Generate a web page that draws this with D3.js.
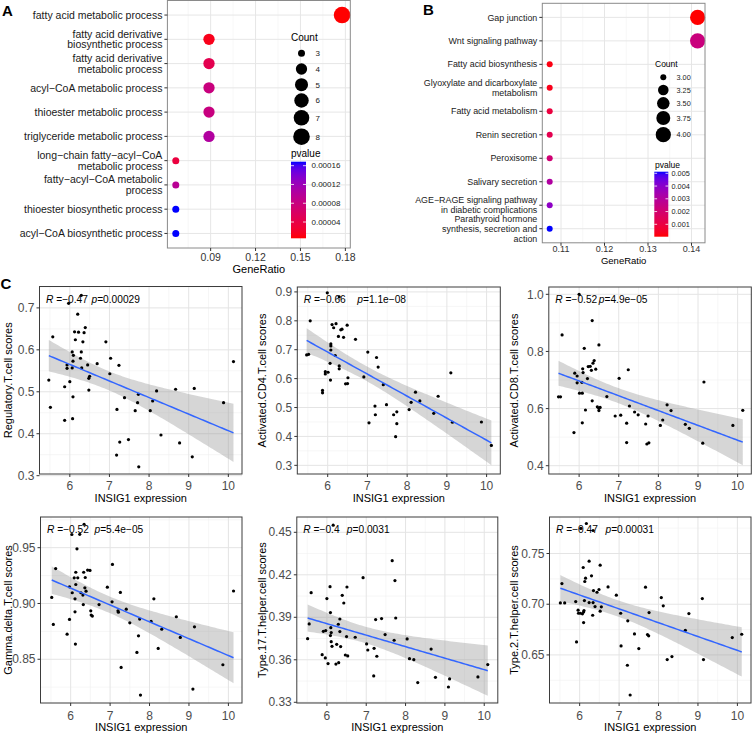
<!DOCTYPE html>
<html><head><meta charset="utf-8">
<script src="https://cdn.jsdelivr.net/npm/d3@7"></script>
<style>body{margin:0;background:#fff;} svg text{font-family:"Liberation Sans", Arial, Helvetica, sans-serif;}</style>
</head><body>
<script>
// ---------------- DATA ----------------
// Panel A (GO enrichment)
const goTerms = ["fatty acid metabolic process","fatty acid derivative\nbiosynthetic process","fatty acid derivative\nmetabolic process","acyl\u2212CoA metabolic process","thioester metabolic process","triglyceride metabolic process","long\u2212chain fatty\u2212acyl\u2212CoA\nmetabolic process","fatty\u2212acyl\u2212CoA metabolic\nprocess","thioester biosynthetic process","acyl\u2212CoA biosynthetic process"];
const goRatio = [0.1778,0.0889,0.0889,0.0889,0.0889,0.0889,0.0667,0.0667,0.0667,0.0667];
const goCount = [8,4,4,4,4,4,3,3,3,3];
const goP = [0.0000053,0.000014,0.000046,0.000079,0.000080,0.000103,0.000035,0.000095,0.0001685,0.0001685];
const goTicks = [0.09,0.12,0.15,0.18];
const goCountBreaks = [3,4,5,6,7,8];
const goPBreaks = [0.00004,0.00008,0.00012,0.00016];

// Panel B (KEGG enrichment)
const keggTerms = ["Gap junction","Wnt signaling pathway","Fatty acid biosynthesis","Glyoxylate and dicarboxylate\nmetabolism","Fatty acid metabolism","Renin secretion","Peroxisome","Salivary secretion","AGE\u2212RAGE signaling pathway\nin diabetic complications","Parathyroid hormone\nsynthesis, secretion and\naction"];
const keggRatio = [0.1414,0.1414,0.1074,0.1074,0.1074,0.1074,0.1074,0.1074,0.1074,0.1074];
const keggCount = [4,4,3,3,3,3,3,3,3,3];
const keggP = [0.0000275,0.0023,0.00018,0.00028,0.00095,0.0013,0.0021,0.0031,0.0039,0.005125];
const keggTicks = [0.11,0.12,0.13,0.14];
const keggCountBreaks = [3.00,3.25,3.50,3.75,4.00];
const keggPBreaks = [0.001,0.002,0.003,0.004,0.005];

// Panel C (correlations with INSIG1 expression)
const scoreNames = ["Regulatory.T.cell scores","Activated.CD4.T.cell scores","Activated.CD8.T.cell scores","Gamma.delta.T.cell scores","Type.17.T.helper.cell scores","Type.2.T.helper.cell scores"];
const corR = ["\u22120.47","\u22120.66","\u22120.52","\u22120.52","\u22120.4","\u22120.47"];
const corP = ["0.00029","1.1e\u221208","4.9e\u221205","5.4e\u221205","0.0031","0.00031"];
const insigTicks = [6,7,8,9,10];
const scoreTicks = [[0.3,0.4,0.5,0.6,0.7],[0.3,0.4,0.5,0.6,0.7,0.8,0.9],[0.4,0.6,0.8,1.0],[0.85,0.90,0.95],[0.33,0.36,0.39,0.42,0.45],[0.65,0.70,0.75]];
const scoreTickFmt = [".1f",".1f",".1f",".2f",".2f",".2f"];

const tregPts = [[5.47,0.528],[5.51,0.463],[5.57,0.631],[5.87,0.432],[5.87,0.512],[5.93,0.564],[5.93,0.556],[5.97,0.711],[6.29,0.73],[6.2,0.685],[6.12,0.643],[6.22,0.642],[6.36,0.641],[6.39,0.653],[6.14,0.624],[6.33,0.619],[6.06,0.595],[6.09,0.587],[6.29,0.595],[6.08,0.573],[6.06,0.557],[6.27,0.58],[6.3,0.557],[6.45,0.564],[6.0,0.524],[6.5,0.537],[6.48,0.532],[6.48,0.504],[6.08,0.488],[6.07,0.436],[6.69,0.567],[6.91,0.619],[7.03,0.58],[7.01,0.543],[7.24,0.563],[7.19,0.458],[7.18,0.349],[7.26,0.38],[7.38,0.486],[7.48,0.386],[7.65,0.455],[7.71,0.474],[7.73,0.494],[7.74,0.321],[8.03,0.455],[8.09,0.478],[8.19,0.502],[8.3,0.397],[8.67,0.506],[8.77,0.378],[9.14,0.508],[9.09,0.345],[9.88,0.474],[10.13,0.572]];
const cd4Pts = [[5.47,0.682],[5.52,0.684],[5.56,0.800],[5.87,0.559],[5.87,0.551],[5.94,0.624],[5.94,0.616],[6.01,0.622],[5.99,0.897],[6.06,0.653],[6.08,0.720],[6.08,0.713],[6.08,0.699],[6.07,0.595],[6.11,0.787],[6.15,0.776],[6.21,0.790],[6.19,0.680],[6.27,0.746],[6.29,0.644],[6.29,0.634],[6.33,0.769],[6.36,0.771],[6.29,0.883],[6.4,0.743],[6.49,0.785],[6.45,0.582],[6.5,0.583],[6.51,0.603],[6.70,0.736],[6.91,0.606],[7.01,0.692],[7.04,0.447],[7.23,0.673],[7.27,0.640],[7.19,0.505],[7.2,0.475],[7.40,0.579],[7.48,0.510],[7.66,0.475],[7.74,0.485],[7.74,0.444],[7.71,0.399],[8.05,0.493],[8.10,0.518],[8.21,0.553],[8.32,0.523],[8.67,0.480],[8.78,0.539],[9.1,0.620],[9.14,0.449],[9.87,0.450],[10.12,0.369]];
const cd8Pts = [[5.48,0.641],[5.53,0.641],[5.57,0.858],[5.87,0.516],[5.89,0.724],[5.95,0.714],[5.95,0.69],[6.0,1.0],[6.01,0.654],[6.08,0.654],[6.08,0.55],[6.09,0.739],[6.1,0.726],[6.07,0.692],[6.13,0.811],[6.16,0.595],[6.21,0.705],[6.23,0.747],[6.28,0.748],[6.31,0.734],[6.33,0.908],[6.33,0.627],[6.35,0.759],[6.38,0.768],[6.42,0.738],[6.46,0.606],[6.5,0.823],[6.5,0.601],[6.5,0.593],[6.53,0.604],[6.7,0.642],[6.91,0.574],[7.01,0.706],[7.05,0.577],[7.2,0.549],[7.2,0.481],[7.24,0.736],[7.27,0.609],[7.4,0.588],[7.49,0.578],[7.68,0.546],[7.74,0.574],[7.71,0.476],[7.76,0.48],[8.05,0.541],[8.11,0.56],[8.22,0.613],[8.32,0.593],[8.68,0.545],[8.78,0.531],[9.15,0.693],[9.12,0.479],[9.88,0.541],[10.13,0.594]];
const gdPts = [[5.52,0.9054],[5.56,0.8812],[5.62,0.9313],[5.91,0.8725],[5.97,0.9149],[5.97,0.8857],[6.03,0.9618],[6.04,0.9096],[6.09,0.923],[6.11,0.9042],[6.13,0.928],[6.13,0.917],[6.11,0.8925],[6.12,0.8636],[6.16,0.949],[6.18,0.923],[6.23,0.962],[6.26,0.9096],[6.31,0.9075],[6.32,0.899],[6.33,0.928],[6.36,0.914],[6.37,0.9233],[6.39,0.911],[6.34,0.971],[6.43,0.9299],[6.49,0.9296],[6.51,0.8934],[6.52,0.8896],[6.55,0.8887],[6.72,0.899],[6.93,0.9146],[7.05,0.9015],[7.06,0.935],[7.2,0.8934],[7.21,0.8922],[7.26,0.9099],[7.28,0.8427],[7.41,0.8949],[7.5,0.8827],[7.68,0.8561],[7.72,0.871],[7.75,0.886],[7.77,0.8179],[8.04,0.8839],[8.11,0.9042],[8.22,0.8597],[8.31,0.877],[8.68,0.8881],[8.78,0.8696],[9.1,0.8233],[9.14,0.8791],[9.86,0.8451],[10.13,0.9112]];
const th17Pts = [[5.51,0.3749],[5.55,0.3853],[5.6,0.4074],[5.88,0.3636],[5.91,0.3801],[5.96,0.3613],[5.97,0.3806],[6.0,0.4032],[6.03,0.3573],[6.08,0.4116],[6.09,0.3771],[6.09,0.3933],[6.1,0.3827],[6.11,0.3792],[6.11,0.3728],[6.13,0.3695],[6.16,0.455],[6.23,0.357],[6.25,0.3709],[6.29,0.3851],[6.3,0.358],[6.33,0.3888],[6.33,0.3799],[6.35,0.3693],[6.39,0.4055],[6.43,0.4001],[6.47,0.3634],[6.5,0.3764],[6.51,0.4114],[6.53,0.3627],[6.72,0.3759],[6.92,0.418],[7.01,0.3712],[7.04,0.3669],[7.19,0.3486],[7.2,0.3681],[7.24,0.3884],[7.27,0.3625],[7.39,0.3891],[7.48,0.3778],[7.66,0.43],[7.71,0.3738],[7.73,0.4159],[7.75,0.3895],[8.04,0.3747],[8.1,0.3608],[8.21,0.3601],[8.31,0.3439],[8.65,0.3676],[8.76,0.3476],[9.09,0.3408],[9.12,0.3465],[9.84,0.3479],[10.09,0.3566]];
const th2Pts = [[5.51,0.7013],[5.55,0.7204],[5.62,0.7013],[5.9,0.7026],[5.92,0.6628],[5.96,0.6941],[5.97,0.6911],[6.02,0.6911],[6.03,0.7747],[6.07,0.6905],[6.09,0.7362],[6.1,0.6924],[6.1,0.6819],[6.11,0.6938],[6.12,0.7036],[6.13,0.7224],[6.15,0.7257],[6.17,0.7796],[6.24,0.7424],[6.24,0.7016],[6.3,0.728],[6.33,0.6891],[6.34,0.7016],[6.35,0.7135],[6.34,0.7727],[6.39,0.6977],[6.44,0.7118],[6.49,0.7145],[6.52,0.7385],[6.52,0.6931],[6.55,0.6974],[6.72,0.7171],[6.93,0.7089],[7.04,0.6911],[7.05,0.6589],[7.22,0.6836],[7.21,0.6398],[7.28,0.6105],[7.39,0.6707],[7.5,0.6563],[7.67,0.7168],[7.72,0.6701],[7.75,0.6688],[7.76,0.6918],[8.07,0.7066],[8.12,0.6984],[8.22,0.6454],[8.34,0.6484],[8.68,0.6743],[8.77,0.6908],[9.11,0.7056],[9.14,0.6454],[9.87,0.6671],[10.11,0.6704]];
const scatterData = [tregPts, cd4Pts, cd8Pts, gdPts, th17Pts, th2Pts];

// ---------------- LAYOUT ----------------
const W = 753, H = 735;
const svg = d3.select("body").append("svg").attr("width", W).attr("height", H);

function minorBreaks(ticks, dom) {
  const step = ticks[1] - ticks[0];
  const out = [];
  for (let v = ticks[0] - step / 2; v <= dom[1] + 1e-9; v += step) {
    if (v >= dom[0] - 1e-9) out.push(v);
  }
  return out.filter(v => !ticks.some(t => Math.abs(t - v) < 1e-9));
}

function panelLabel(txt, x, y) {
  svg.append("text").attr("x", x).attr("y", y).text(txt)
    .style("font-size", "15px").style("font-weight", "bold").attr("fill", "#000");
}

function drawEnrich(o) {
  const g = svg.append("g");
  const b = o.box;
  const x = d3.scaleLinear().domain(o.xDom).range([b.x0, b.x1]);
  const y = d3.scalePoint().domain(d3.range(o.terms.length)).range([b.y0, b.y1]).padding(0.6);
  const col = d3.scaleLinear().domain(o.pDom).range(["#FF0000", "#0000FF"]).interpolate(d3.interpolateLab);
  const cmin = d3.min(o.countBreaks), cmax = d3.max(o.countBreaks);
  const rad = c => o.rRange[0] + (o.rRange[1] - o.rRange[0]) * Math.sqrt((c - cmin) / (cmax - cmin));

  g.append("rect").attr("x", b.x0).attr("y", b.y0).attr("width", b.x1 - b.x0).attr("height", b.y1 - b.y0).attr("fill", "#fff");
  g.selectAll(".mn").data(minorBreaks(o.xTicks, o.xDom)).join("line")
    .attr("x1", d => x(d)).attr("x2", d => x(d)).attr("y1", b.y0).attr("y2", b.y1)
    .attr("stroke", "#f2f2f2").attr("stroke-width", 0.6);
  g.selectAll(".mj").data(o.xTicks).join("line")
    .attr("x1", d => x(d)).attr("x2", d => x(d)).attr("y1", b.y0).attr("y2", b.y1)
    .attr("stroke", "#e6e6e6").attr("stroke-width", 1);
  g.selectAll(".hy").data(d3.range(o.terms.length)).join("line")
    .attr("x1", b.x0).attr("x2", b.x1).attr("y1", d => y(d)).attr("y2", d => y(d))
    .attr("stroke", "#e6e6e6").attr("stroke-width", 1);
  g.selectAll(".dot").data(d3.range(o.terms.length)).join("circle")
    .attr("cx", i => x(o.ratio[i])).attr("cy", i => y(i)).attr("r", i => rad(o.count[i]))
    .attr("fill", i => col(o.p[i]));
  g.append("rect").attr("x", b.x0).attr("y", b.y0).attr("width", b.x1 - b.x0).attr("height", b.y1 - b.y0)
    .attr("fill", "none").attr("stroke", "#8a8a8a").attr("stroke-width", 1);
  g.selectAll(".yt").data(d3.range(o.terms.length)).join("line")
    .attr("x1", b.x0 - 3).attr("x2", b.x0).attr("y1", d => y(d)).attr("y2", d => y(d)).attr("stroke", "#333");
  o.terms.forEach((t, i) => {
    const lines = t.split("\n");
    const txt = g.append("text").attr("text-anchor", "end").style("font-size", o.labFont + "px").attr("fill", "#1a1a1a");
    lines.forEach((ln, k) => {
      txt.append("tspan").attr("x", b.x0 - 5)
        .attr("y", y(i) + (k - (lines.length - 1) / 2) * o.lineH).attr("dy", "0.35em").text(ln);
    });
  });
  g.selectAll(".xt").data(o.xTicks).join("line")
    .attr("x1", d => x(d)).attr("x2", d => x(d)).attr("y1", b.y1).attr("y2", b.y1 + 3).attr("stroke", "#333");
  g.selectAll(".xl").data(o.xTicks).join("text")
    .attr("x", d => x(d)).attr("y", o.tickBase).attr("text-anchor", "middle")
    .style("font-size", o.tickFont + "px").attr("fill", "#333").text(d => d3.format(".2f")(d));
  g.append("text").attr("x", (b.x0 + b.x1) / 2).attr("y", o.titleBase).attr("text-anchor", "middle")
    .style("font-size", o.titleFont + "px").attr("fill", "#000").text("GeneRatio");

  const L = o.leg;
  g.append("text").attr("x", L.x).attr("y", L.countTitleY).style("font-size", L.titleFont + "px").text("Count");
  o.countBreaks.forEach((c, k) => {
    g.append("circle").attr("cx", L.keyX).attr("cy", L.keyY[k]).attr("r", rad(c)).attr("fill", "#000");
    g.append("text").attr("x", L.labX).attr("y", L.keyY[k]).attr("dy", "0.35em")
      .style("font-size", L.labFont + "px").attr("fill", "#1a1a1a").text(o.countFmt(c));
  });
  g.append("text").attr("x", L.x).attr("y", L.pTitleY).style("font-size", L.titleFont + "px").text("pvalue");
  const gid = "grad" + o.id;
  const grad = svg.append("defs").append("linearGradient").attr("id", gid)
    .attr("x1", 0).attr("y1", 1).attr("x2", 0).attr("y2", 0);
  d3.range(0, 1.0001, 0.05).forEach(t => {
    grad.append("stop").attr("offset", t).attr("stop-color", col(o.pDom[0] + t * (o.pDom[1] - o.pDom[0])));
  });
  const cb = L.bar;
  g.append("rect").attr("x", cb.x0).attr("y", cb.y0).attr("width", cb.x1 - cb.x0).attr("height", cb.y1 - cb.y0)
    .attr("fill", `url(#${gid})`);
  const cy = d3.scaleLinear().domain(o.pDom).range([cb.y1, cb.y0]);
  const tw = (cb.x1 - cb.x0) / 5;
  o.pBreaks.forEach(p => {
    g.append("line").attr("x1", cb.x0).attr("x2", cb.x0 + tw).attr("y1", cy(p)).attr("y2", cy(p)).attr("stroke", "#fff").attr("stroke-width", 0.8);
    g.append("line").attr("x1", cb.x1 - tw).attr("x2", cb.x1).attr("y1", cy(p)).attr("y2", cy(p)).attr("stroke", "#fff").attr("stroke-width", 0.8);
    g.append("text").attr("x", L.pLabX).attr("y", cy(p)).attr("dy", "0.35em")
      .style("font-size", L.labFont + "px").attr("fill", "#1a1a1a").text(o.pFmt(p));
  });
}

drawEnrich({
  id: "A", terms: goTerms, ratio: goRatio, count: goCount, p: goP,
  box: {x0: 167.4, x1: 350.3, y0: 0.5, y1: 248}, xDom: [0.0611, 0.1833], xTicks: goTicks,
  pDom: [0.0000053, 0.0001685], rRange: [3.5, 8.3], countBreaks: goCountBreaks, pBreaks: goPBreaks,
  labFont: 10.5, lineH: 10.7, tickFont: 10.5, tickBase: 261, titleFont: 11, titleBase: 272.5,
  countFmt: d3.format("d"), pFmt: d3.format(".5f"),
  leg: {x: 291, countTitleY: 40.5, keyX: 301.5, keyY: [53.3, 69, 84.7, 100.5, 117.7, 136.7], labX: 315.5,
        labFont: 8, titleFont: 10, pTitleY: 157, bar: {x0: 291, x1: 306, y0: 161.7, y1: 238.3}, pLabX: 311.5}
});

drawEnrich({
  id: "B", terms: keggTerms, ratio: keggRatio, count: keggCount, p: keggP,
  box: {x0: 542.3, x1: 705, y0: 3.3, y1: 242.8}, xDom: [0.1057, 0.1431], xTicks: keggTicks,
  pDom: [0.0000275, 0.005125], rRange: [3.0, 7.6], countBreaks: keggCountBreaks, pBreaks: keggPBreaks,
  labFont: 8.9, lineH: 10, tickFont: 9, tickBase: 252, titleFont: 9.5, titleBase: 263.5,
  countFmt: d3.format(".2f"), pFmt: d3.format(".3f"),
  leg: {x: 655, countTitleY: 66.5, keyX: 663.3, keyY: [77.3, 90, 103.3, 118, 134.7], labX: 676.5,
        labFont: 7.3, titleFont: 8.5, pTitleY: 167.5, bar: {x0: 654.3, x1: 668.3, y0: 171.7, y1: 236.7}, pLabX: 671.5}
});

// ---------------- Panel C ----------------
const insigDom = [5.235, 10.345];
const scoreDoms = [[0.304, 0.751], [0.270, 0.917], [0.371, 1.0256], [0.8108, 0.9775], [0.3295, 0.4608], [0.6026, 0.786]];
const boxesC = [
  {x: 39.5, y: 286.5, w: 202.5, h: 187.5},
  {x: 297.3, y: 287, w: 203, h: 187},
  {x: 548.8, y: 287, w: 202.5, h: 187},
  {x: 40.5, y: 517, w: 201.5, h: 186},
  {x: 296.8, y: 517, w: 201, h: 186},
  {x: 549.5, y: 517, w: 201.5, h: 186}];
const rowTickBase = [490, 719.5], rowTitleBase = [501.5, 731];
const yTitleX = [11.5, 265.5, 518];
const pOffsets = [52, 60, 50, 54, 50, 56];

function tq975(df) {
  const z = 1.959964;
  return z + (z ** 3 + z) / (4 * df) + (5 * z ** 5 + 16 * z ** 3 + 3 * z) / (96 * df * df);
}

scatterData.forEach((pts, i) => {
  const bx = boxesC[i];
  const row = i < 3 ? 0 : 1, colI = i % 3;
  const g = svg.append("g");
  const x = d3.scaleLinear().domain(insigDom).range([bx.x, bx.x + bx.w]);
  const y = d3.scaleLinear().domain(scoreDoms[i]).range([bx.y + bx.h, bx.y]);
  const cid = "clipC" + i;
  svg.append("defs").append("clipPath").attr("id", cid).append("rect")
    .attr("x", bx.x).attr("y", bx.y).attr("width", bx.w).attr("height", bx.h);

  g.append("rect").attr("x", bx.x).attr("y", bx.y).attr("width", bx.w).attr("height", bx.h).attr("fill", "#fff");
  const xt = insigTicks, yt = scoreTicks[i];
  g.selectAll(".xmn").data(minorBreaks(xt, insigDom)).join("line")
    .attr("x1", d => x(d)).attr("x2", d => x(d)).attr("y1", bx.y).attr("y2", bx.y + bx.h).attr("stroke", "#f0f0f0").attr("stroke-width", 0.6);
  g.selectAll(".ymn").data(minorBreaks(yt, scoreDoms[i])).join("line")
    .attr("y1", d => y(d)).attr("y2", d => y(d)).attr("x1", bx.x).attr("x2", bx.x + bx.w).attr("stroke", "#f0f0f0").attr("stroke-width", 0.6);
  g.selectAll(".xmj").data(xt).join("line")
    .attr("x1", d => x(d)).attr("x2", d => x(d)).attr("y1", bx.y).attr("y2", bx.y + bx.h).attr("stroke", "#e4e4e4").attr("stroke-width", 1);
  g.selectAll(".ymj").data(yt).join("line")
    .attr("y1", d => y(d)).attr("y2", d => y(d)).attr("x1", bx.x).attr("x2", bx.x + bx.w).attr("stroke", "#e4e4e4").attr("stroke-width", 1);

  // linear fit with 95% confidence band
  const n = pts.length;
  const mx = d3.mean(pts, d => d[0]), my = d3.mean(pts, d => d[1]);
  const sxx = d3.sum(pts, d => (d[0] - mx) ** 2);
  const sxy = d3.sum(pts, d => (d[0] - mx) * (d[1] - my));
  const slope = sxy / sxx, icpt = my - slope * mx;
  const s = Math.sqrt(d3.sum(pts, d => (d[1] - (icpt + slope * d[0])) ** 2) / (n - 2));
  const tq = tq975(n - 2);
  const xmin = d3.min(pts, d => d[0]), xmax = d3.max(pts, d => d[0]);
  const xs = d3.range(0, 81).map(k => xmin + (xmax - xmin) * k / 80);
  const band = xs.map(xv => {
    const fit = icpt + slope * xv;
    const se = s * Math.sqrt(1 / n + (xv - mx) ** 2 / sxx);
    return {x: xv, lo: fit - tq * se, hi: fit + tq * se, fit};
  });
  const cg = g.append("g").attr("clip-path", `url(#${cid})`);
  cg.append("path").datum(band)
    .attr("d", d3.area().x(d => x(d.x)).y0(d => y(d.lo)).y1(d => y(d.hi)))
    .attr("fill", "#999999").attr("fill-opacity", 0.4);
  cg.selectAll(".pt").data(pts).join("circle")
    .attr("cx", d => x(d[0])).attr("cy", d => y(d[1])).attr("r", 1.6).attr("fill", "#000");
  cg.append("path").datum(band)
    .attr("d", d3.line().x(d => x(d.x)).y(d => y(d.fit)))
    .attr("fill", "none").attr("stroke", "#3366FF").attr("stroke-width", 1.5);

  g.append("rect").attr("x", bx.x).attr("y", bx.y).attr("width", bx.w).attr("height", bx.h)
    .attr("fill", "none").attr("stroke", "#3d3d3d").attr("stroke-width", 1);

  g.selectAll(".xtk").data(xt).join("line")
    .attr("x1", d => x(d)).attr("x2", d => x(d)).attr("y1", bx.y + bx.h).attr("y2", bx.y + bx.h + 3).attr("stroke", "#333");
  g.selectAll(".ytk").data(yt).join("line")
    .attr("y1", d => y(d)).attr("y2", d => y(d)).attr("x1", bx.x - 3).attr("x2", bx.x).attr("stroke", "#333");
  g.selectAll(".xtl").data(xt).join("text")
    .attr("x", d => x(d)).attr("y", rowTickBase[row]).attr("text-anchor", "middle")
    .style("font-size", "12px").attr("fill", "#4d4d4d").text(d => d);
  g.selectAll(".ytl").data(yt).join("text")
    .attr("x", bx.x - 5).attr("y", d => y(d)).attr("dy", "0.35em").attr("text-anchor", "end")
    .style("font-size", "12px").attr("fill", "#4d4d4d").text(d => d3.format(scoreTickFmt[i])(d));
  g.append("text").attr("x", bx.x + bx.w / 2).attr("y", rowTitleBase[row]).attr("text-anchor", "middle")
    .style("font-size", "11px").attr("fill", "#000").text("INSIG1 expression");
  const cyT = bx.y + bx.h / 2;
  g.append("text").attr("transform", `translate(${yTitleX[colI]},${cyT}) rotate(-90)`).attr("text-anchor", "middle")
    .style("font-size", "11px").attr("fill", "#000").text(scoreNames[i]);
  const rt = g.append("text").attr("x", bx.x + 6.5).attr("y", bx.y + 16).style("font-size", "10.2px").attr("fill", "#000");
  rt.append("tspan").style("font-style", "italic").text("R");
  rt.append("tspan").text(" =" + corR[i]);
  const pt = g.append("text").attr("x", bx.x + pOffsets[i]).attr("y", bx.y + 16).style("font-size", "10.2px").attr("fill", "#000");
  pt.append("tspan").style("font-style", "italic").text("p");
  pt.append("tspan").text("=" + corP[i]);
});

panelLabel("A", 2, 15.5);
panelLabel("B", 423, 14.5);
panelLabel("C", 0.5, 288.5);
</script>
</body></html>
